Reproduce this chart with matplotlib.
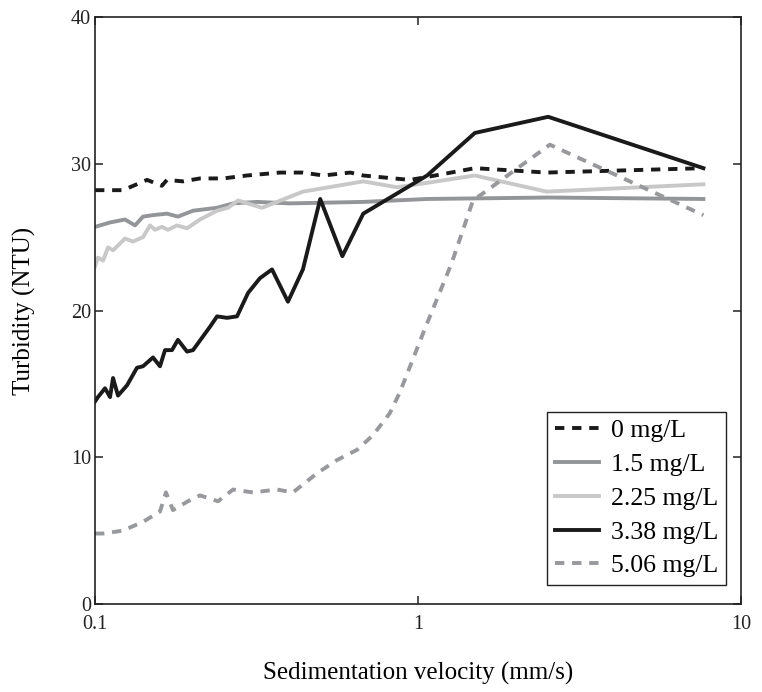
import matplotlib
matplotlib.use("Agg")
import matplotlib.pyplot as plt
from matplotlib.ticker import FixedLocator, NullLocator, FixedFormatter

plt.rcParams['font.family'] = ['Liberation Serif', 'DejaVu Serif']

# 0 mg/L
x_0 = [0.100, 0.1221, 0.1449, 0.1611, 0.1670, 0.1872, 0.2113, 0.2490, 0.2953,
       0.3736, 0.4402, 0.5085, 0.6168, 0.6768, 0.9441, 1.067, 1.50, 2.50, 7.65]
y_0 = [28.2, 28.2, 28.9, 28.5, 28.9, 28.8, 29.0, 29.0, 29.2,
       29.4, 29.4, 29.2, 29.4, 29.2, 28.9, 29.1, 29.7, 29.4, 29.7]

# 1.5 mg/L
x_15 = [0.100, 0.1113, 0.1238, 0.1330, 0.1408, 0.1512, 0.1670, 0.1806, 0.2011,
        0.2387, 0.2676, 0.3176, 0.4014, 0.6768, 1.067, 2.53, 7.65]
y_15 = [25.7, 26.0, 26.2, 25.8, 26.4, 26.5, 26.6, 26.4, 26.8,
        27.0, 27.3, 27.4, 27.3, 27.4, 27.6, 27.7, 27.6]

# 2.25 mg/L
x_225 = [0.100, 0.1021, 0.1059, 0.1097, 0.1137, 0.1238, 0.1311, 0.1408, 0.1480,
         0.1533, 0.1611, 0.1682, 0.1794, 0.1927, 0.2113, 0.2387, 0.2580, 0.2772,
         0.3287, 0.3659, 0.4402, 0.6768, 0.8600, 1.067, 1.50, 2.50, 7.65]
y_225 = [23.0, 23.6, 23.4, 24.3, 24.1, 24.9, 24.7, 25.0, 25.8,
         25.5, 25.7, 25.5, 25.8, 25.6, 26.2, 26.8, 27.0, 27.5,
         27.0, 27.4, 28.1, 28.8, 28.4, 28.7, 29.2, 28.1, 28.6]

# 3.38 mg/L
x_338 = [0.100, 0.1021, 0.1074, 0.1113, 0.1137, 0.1178, 0.1256, 0.1349, 0.1408,
         0.1512, 0.1589, 0.1647, 0.1731, 0.1806, 0.1927, 0.2011, 0.2271, 0.2387,
         0.2562, 0.2752, 0.2978, 0.3240, 0.3532, 0.3957, 0.4402, 0.4980, 0.5831,
         0.6768, 1.067, 1.50, 2.53, 7.65]
y_338 = [13.8, 14.1, 14.7, 14.1, 15.4, 14.2, 14.9, 16.1, 16.2,
         16.8, 16.2, 17.3, 17.3, 18.0, 17.2, 17.3, 18.9, 19.6,
         19.5, 19.6, 21.2, 22.2, 22.8, 20.6, 22.8, 27.6, 23.7,
         26.6, 29.2, 32.1, 33.2, 29.7]

# 5.06 mg/L
x_506 = [0.100, 0.1059, 0.1221, 0.1408, 0.1589, 0.1658, 0.1743, 0.1940, 0.2113,
         0.2404, 0.2676, 0.3085, 0.3659, 0.4100, 0.4863, 0.5605, 0.6471, 0.7253,
         0.8177, 0.8778, 1.052, 1.27, 1.48, 1.64, 2.56, 7.65]
y_506 = [4.8, 4.8, 5.0, 5.6, 6.3, 7.6, 6.4, 7.0, 7.4,
         7.0, 7.8, 7.6, 7.8, 7.6, 8.9, 9.8, 10.5, 11.5,
         13.0, 14.4, 18.8, 23.2, 27.5, 28.2, 31.3, 26.5]

labels = ['0 mg/L', '1.5 mg/L', '2.25 mg/L', '3.38 mg/L', '5.06 mg/L']

fig = plt.figure(figsize=(7.62, 6.92), dpi=100)
ax = fig.add_axes([0.1247, 0.1272, 0.8477, 0.8482])

lw = 2.8
dash = (2.4, 2.0)
ax.plot(x_0, y_0, color='#1a1a1a', lw=lw, dashes=dash, label=labels[0])
ax.plot(x_15, y_15, color='#939598', lw=lw, label=labels[1])
ax.plot(x_225, y_225, color='#c8c8c8', lw=lw, label=labels[2])
ax.plot(x_338, y_338, color='#1a1a1a', lw=lw, label=labels[3])
ax.plot(x_506, y_506, color='#98999c', lw=lw, dashes=dash, label=labels[4])

ax.set_xscale('log')
ax.set_xlim(0.1, 10)
ax.set_ylim(0, 40)
ax.xaxis.set_major_locator(FixedLocator([0.1, 1, 10]))
ax.xaxis.set_major_formatter(FixedFormatter(['0.1', '1', '10']))
ax.xaxis.set_minor_locator(NullLocator())
ax.set_yticks([0, 10, 20, 30, 40])

ax.tick_params(which='major', direction='in', length=6, width=1.1,
               top=True, right=True, labelsize=14.5, colors='#222222')
ax.tick_params(axis='x', pad=8)
ax.tick_params(axis='y', pad=3)
for sp in ax.spines.values():
    sp.set_linewidth(1.2)
    sp.set_color('#222222')

ax.set_xlabel('Sedimentation velocity (mm/s)', fontsize=18, labelpad=20)
ax.set_ylabel('Turbidity (NTU)', fontsize=18, labelpad=25)

leg = ax.legend(loc='lower right', bbox_to_anchor=(0.977, 0.032), fontsize=18.5,
                handlelength=1.75, handletextpad=0.45, labelspacing=0.42,
                borderpad=0.3, borderaxespad=0, fancybox=False, framealpha=1)
leg.get_frame().set_edgecolor('#222222')
leg.get_frame().set_linewidth(1.0)

fig.savefig('out.png', dpi=100)
